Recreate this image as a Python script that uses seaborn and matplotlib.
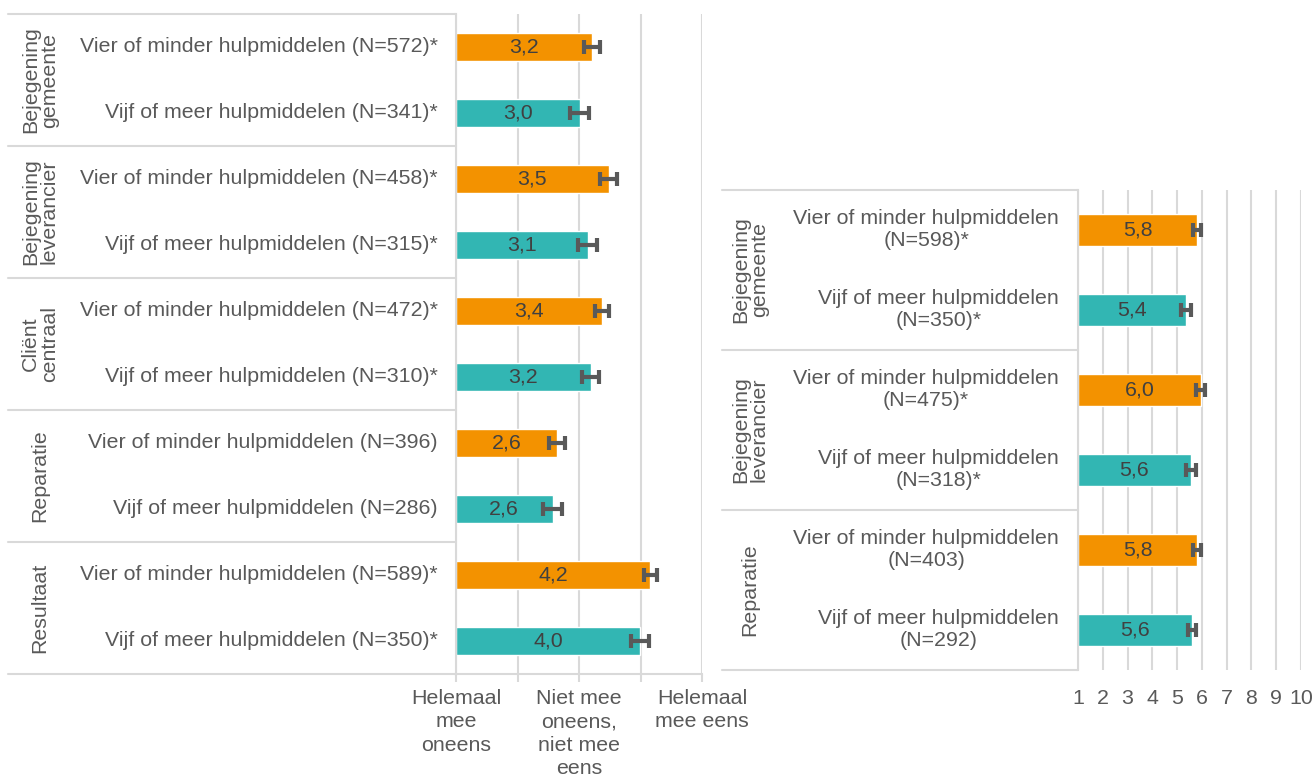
import pandas as pd
import matplotlib.pyplot as plt
import seaborn as sns

# Data - left panel (score 1-5)
left_groups = ["Bejegening\ngemeente", "Bejegening\nleverancier", "Cliënt\ncentraal", "Reparatie", "Resultaat"]
left_labels = [
    "Vier of minder hulpmiddelen (N=572)*", "Vijf of meer hulpmiddelen (N=341)*",
    "Vier of minder hulpmiddelen (N=458)*", "Vijf of meer hulpmiddelen (N=315)*",
    "Vier of minder hulpmiddelen (N=472)*", "Vijf of meer hulpmiddelen (N=310)*",
    "Vier of minder hulpmiddelen (N=396)", "Vijf of meer hulpmiddelen (N=286)",
    "Vier of minder hulpmiddelen (N=589)*", "Vijf of meer hulpmiddelen (N=350)*",
]
left_values = [3.21, 3.01, 3.48, 3.14, 3.37, 3.19, 2.64, 2.57, 4.16, 3.99]
left_err = [0.13, 0.15, 0.14, 0.16, 0.11, 0.14, 0.13, 0.15, 0.11, 0.15]
left_ticklabels = ["Helemaal\nmee\noneens", "", "Niet mee\noneens,\nniet mee\neens", "", "Helemaal\nmee eens"]

# Data - right panel (score 1-10)
right_groups = ["Bejegening\ngemeente", "Bejegening\nleverancier", "Reparatie"]
right_labels = [
    "Vier of minder hulpmiddelen\n(N=598)*", "Vijf of meer hulpmiddelen\n(N=350)*",
    "Vier of minder hulpmiddelen\n(N=475)*", "Vijf of meer hulpmiddelen\n(N=318)*",
    "Vier of minder hulpmiddelen\n(N=403)", "Vijf of meer hulpmiddelen\n(N=292)",
]
right_values = [5.80, 5.36, 5.96, 5.56, 5.81, 5.60]
right_err = [0.17, 0.20, 0.18, 0.21, 0.17, 0.18]
right_ticklabels = [str(i) for i in range(1, 11)]

hulp = ["Vier of minder", "Vijf of meer"]

# Style
sns.set_theme(style="white")
plt.rcParams['font.family'] = ['Liberation Sans', 'DejaVu Sans']
TEXT = "#595959"
GRID = "#D9D9D9"
palette = {"Vier of minder": "#F39200", "Vijf of meer": "#32B6B3"}
FS = 15.4


def make_df(labels, values):
    return pd.DataFrame({
        "row": [f"r{i}" for i in range(len(labels))],
        "value": values,
        "hulp": [hulp[i % 2] for i in range(len(labels))],
    })


def draw_panel(ax, groups, labels, values, err, xmin, xmax, bar_w, sep_x, group_x, label_x, bottom_spine):
    df = make_df(labels, values)
    sns.barplot(data=df, x="value", y="row", hue="hulp", palette=palette, dodge=False,
                width=bar_w, saturation=1, orient="h", legend=False, ax=ax)
    # bars start at xmin
    for p in ax.patches:
        w = p.get_width()
        p.set_x(xmin)
        p.set_width(w - xmin)
    ax.errorbar(values, range(len(values)), xerr=err, fmt="none", ecolor="#595959",
                elinewidth=3, capsize=5, capthick=3, zorder=5)
    for i, v in enumerate(values):
        ax.text((xmin + v) / 2, i, f"{v:.1f}".replace(".", ","), ha="center", va="center",
                fontsize=FS, color="#404040", zorder=6)

    n = len(labels)
    ax.set_ylim(n - 0.5, -0.5)
    ax.set_xlim(xmin, xmax)
    ax.set_yticks([])
    ax.set_ylabel("")
    ax.set_xlabel("")
    ax.xaxis.grid(True, color=GRID, linewidth=1.5)
    ax.set_axisbelow(True)
    for s in ["top", "right"]:
        ax.spines[s].set_visible(False)
    ax.spines["left"].set_color(GRID)
    ax.spines["left"].set_linewidth(1.5)
    ax.spines["bottom"].set_color(GRID)
    ax.spines["bottom"].set_linewidth(1.5)
    ax.spines["bottom"].set_visible(bottom_spine)

    trans = ax.get_yaxis_transform()
    # group separator lines
    for k in range(len(groups) + 1):
        y = 2 * k - 0.5
        ax.plot([sep_x, 0], [y, y], color=GRID, linewidth=1.5, transform=trans, clip_on=False)
    # group labels
    for k, g in enumerate(groups):
        ax.text(group_x, 2 * k + 0.5, g, rotation=90, ha="center", va="center",
                multialignment="center", fontsize=FS, color=TEXT, transform=trans,
                linespacing=1.0)
    # row labels
    for i, lab in enumerate(labels):
        ax.text(label_x, i, lab, ha="right", va="center", multialignment="center",
                fontsize=FS, color=TEXT, transform=trans)


fig = plt.figure(figsize=(13.15, 7.8), dpi=100)

ax1 = fig.add_axes([456 / 1315, 1 - 674 / 780, 246 / 1315, 660 / 780])
draw_panel(ax1, left_groups, left_labels, left_values, left_err, 1, 5, 0.41,
           sep_x=(8 - 456) / 246, group_x=(40 - 456) / 246, label_x=(438 - 456) / 246,
           bottom_spine=True)
ax1.set_xticks(range(1, 6))
ax1.set_xticklabels(left_ticklabels, fontsize=FS, color=TEXT, va="top", linespacing=1.28)
ax1.tick_params(axis="x", bottom=True, length=6, width=1.5, color=GRID, pad=5)

ax2 = fig.add_axes([1078 / 1315, 1 - 670 / 780, 223 / 1315, 480 / 780])
draw_panel(ax2, right_groups, right_labels, right_values, right_err, 1, 10, 0.39,
           sep_x=(722 - 1078) / 223, group_x=(750 - 1078) / 223, label_x=(1059 - 1078) / 223,
           bottom_spine=False)
ax2.set_xticks(range(1, 11))
ax2.set_xticklabels(right_ticklabels, fontsize=FS, color=TEXT)
ax2.tick_params(axis="x", bottom=False, length=0, pad=14)

fig.savefig("out.png", dpi=100)
